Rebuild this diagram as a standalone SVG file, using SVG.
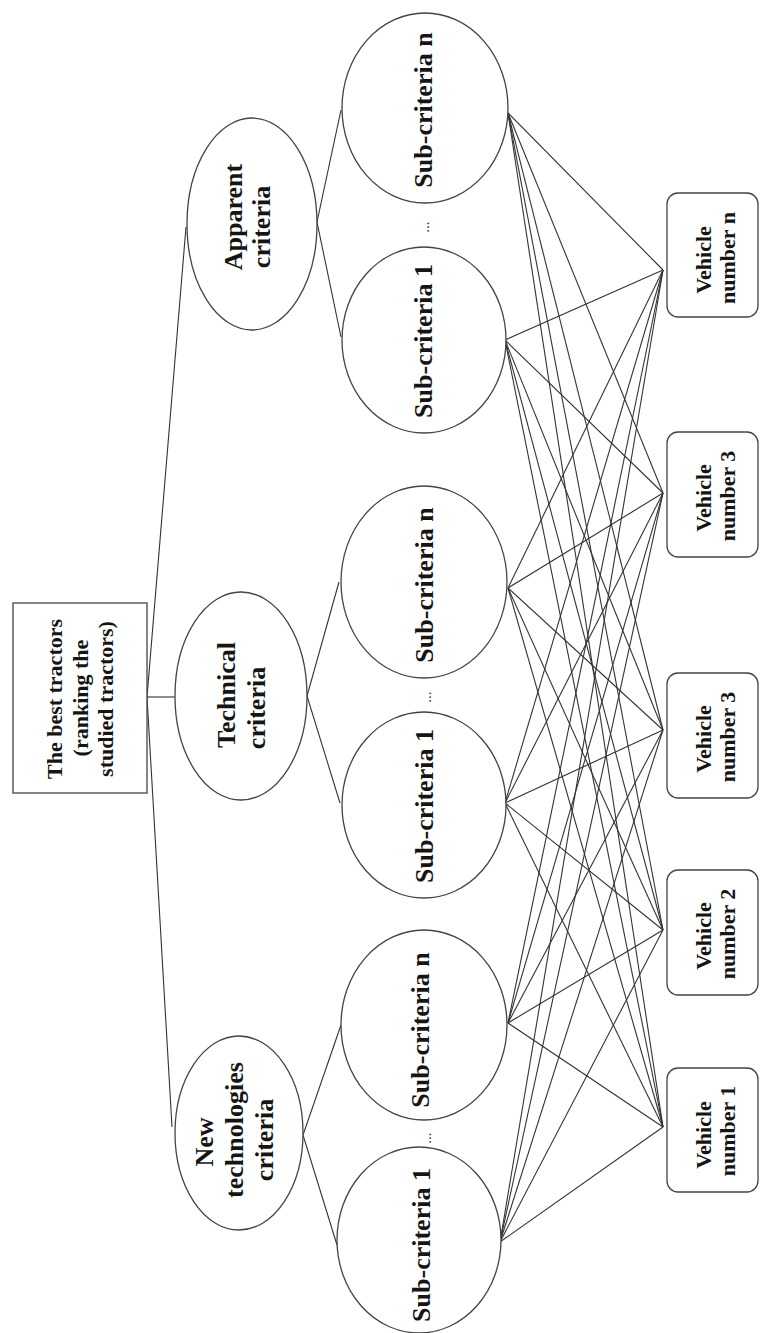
<svg xmlns="http://www.w3.org/2000/svg" width="760" height="1333" viewBox="0 0 760 1333">
<style>
.n{fill:#fff;stroke:#444;stroke-width:1.3}
.c{stroke:#333;stroke-width:1.1;fill:none}
.t{font-family:"Liberation Serif","Times New Roman",serif;font-weight:bold;fill:#151515;text-anchor:middle}
.r{font-size:22px}
.m{font-size:26px}
.v{font-size:22px}
.d{font-family:"Liberation Serif",serif;font-size:15px;fill:#333;text-anchor:middle}
</style>
<rect width="760" height="1333" fill="#fff"/>
<g id="connectors" class="c">
<polyline points="186,227 147,697 172,1127"/>
<line x1="147" y1="697" x2="175" y2="697"/>
<polyline points="341,110 317,222 341,337"/>
<polyline points="339,582 307,696 340,803"/>
<polyline points="341,1025 303,1135 337,1245"/>
<g id="mesh">
<line x1="508" y1="113" x2="663" y2="270"/><line x1="508" y1="113" x2="663" y2="493"/><line x1="508" y1="113" x2="663" y2="730"/><line x1="508" y1="113" x2="663" y2="930"/><line x1="508" y1="113" x2="663" y2="1127"/>
<line x1="505" y1="340" x2="663" y2="270"/><line x1="505" y1="340" x2="663" y2="493"/><line x1="505" y1="340" x2="663" y2="730"/><line x1="505" y1="340" x2="663" y2="930"/><line x1="505" y1="340" x2="663" y2="1127"/>
<line x1="508" y1="588" x2="663" y2="270"/><line x1="508" y1="588" x2="663" y2="493"/><line x1="508" y1="588" x2="663" y2="730"/><line x1="508" y1="588" x2="663" y2="930"/><line x1="508" y1="588" x2="663" y2="1127"/>
<line x1="505" y1="803" x2="663" y2="270"/><line x1="505" y1="803" x2="663" y2="493"/><line x1="505" y1="803" x2="663" y2="730"/><line x1="505" y1="803" x2="663" y2="930"/><line x1="505" y1="803" x2="663" y2="1127"/>
<line x1="508" y1="1023" x2="663" y2="270"/><line x1="508" y1="1023" x2="663" y2="493"/><line x1="508" y1="1023" x2="663" y2="730"/><line x1="508" y1="1023" x2="663" y2="930"/><line x1="508" y1="1023" x2="663" y2="1127"/>
<line x1="500" y1="1242" x2="663" y2="270"/><line x1="500" y1="1242" x2="663" y2="493"/><line x1="500" y1="1242" x2="663" y2="730"/><line x1="500" y1="1242" x2="663" y2="930"/><line x1="500" y1="1242" x2="663" y2="1127"/>
</g>
</g>
<g id="root">
<rect class="n" x="13" y="603" width="134" height="190"/>
<text class="t r" transform="rotate(-90)"><tspan x="-699" y="62">The best tractors</tspan><tspan x="-698" y="87.5">(ranking the</tspan><tspan x="-699" y="113">studied tractors)</tspan></text>
</g>
<g id="apparent">
<ellipse class="n" cx="252" cy="224" rx="65" ry="106"/>
<text class="t m" transform="rotate(-90)"><tspan x="-217" y="242">Apparent</tspan><tspan x="-227" y="270">criteria</tspan></text>
</g>
<g id="technical">
<ellipse class="n" cx="241" cy="696" rx="66" ry="104"/>
<text class="t m" transform="rotate(-90)"><tspan x="-695" y="235">Technical</tspan><tspan x="-708" y="265">criteria</tspan></text>
</g>
<g id="newtech">
<ellipse class="n" cx="239" cy="1133" rx="64" ry="97"/>
<text class="t m" transform="rotate(-90)"><tspan x="-1142" y="213">New</tspan><tspan x="-1130" y="243">technologies</tspan><tspan x="-1140" y="273">criteria</tspan></text>
</g>
<g id="app-sub-n">
<ellipse class="n" cx="425" cy="108" rx="83" ry="95"/>
<text class="t m" transform="rotate(-90)" x="-110" y="432">Sub-criteria n</text>
</g>
<g id="app-sub-1">
<ellipse class="n" cx="424" cy="340" rx="82" ry="93"/>
<text class="t m" transform="rotate(-90)" x="-341" y="432">Sub-criteria 1</text>
</g>
<g id="tech-sub-n">
<ellipse class="n" cx="424" cy="582" rx="83" ry="96"/>
<text class="t m" transform="rotate(-90)" x="-585" y="433">Sub-criteria n</text>
</g>
<g id="tech-sub-1">
<ellipse class="n" cx="424" cy="805" rx="82" ry="93"/>
<text class="t m" transform="rotate(-90)" x="-806" y="433">Sub-criteria 1</text>
</g>
<g id="new-sub-n">
<ellipse class="n" cx="424" cy="1025" rx="83" ry="95"/>
<text class="t m" transform="rotate(-90)" x="-1030" y="429">Sub-criteria n</text>
</g>
<g id="new-sub-1">
<ellipse class="n" cx="419" cy="1240" rx="82" ry="93"/>
<text class="t m" transform="rotate(-90)" x="-1245" y="430">Sub-criteria 1</text>
</g>
<g id="ellipses-dots">
<text class="d" transform="rotate(-90)" x="-227" y="429">...</text>
<text class="d" transform="rotate(-90)" x="-697" y="431">...</text>
<text class="d" transform="rotate(-90)" x="-1138" y="431">...</text>
</g>
<g id="vehicle-n">
<rect class="n" x="667" y="193" width="91" height="124" rx="11"/>
<text class="t v" transform="rotate(-90)"><tspan x="-260" y="711">Vehicle</tspan><tspan x="-258" y="735">number n</tspan></text>
</g>
<g id="vehicle-3a">
<rect class="n" x="667" y="432" width="91" height="125" rx="11"/>
<text class="t v" transform="rotate(-90)"><tspan x="-498" y="711">Vehicle</tspan><tspan x="-496" y="735">number 3</tspan></text>
</g>
<g id="vehicle-3b">
<rect class="n" x="667" y="673" width="91" height="125" rx="11"/>
<text class="t v" transform="rotate(-90)"><tspan x="-739" y="711">Vehicle</tspan><tspan x="-737" y="735">number 3</tspan></text>
</g>
<g id="vehicle-2">
<rect class="n" x="667" y="870" width="91" height="125" rx="11"/>
<text class="t v" transform="rotate(-90)"><tspan x="-936" y="711">Vehicle</tspan><tspan x="-934" y="735">number 2</tspan></text>
</g>
<g id="vehicle-1">
<rect class="n" x="667" y="1068" width="91" height="124" rx="11"/>
<text class="t v" transform="rotate(-90)"><tspan x="-1135" y="711">Vehicle</tspan><tspan x="-1131" y="735">number 1</tspan></text>
</g>
</svg>
